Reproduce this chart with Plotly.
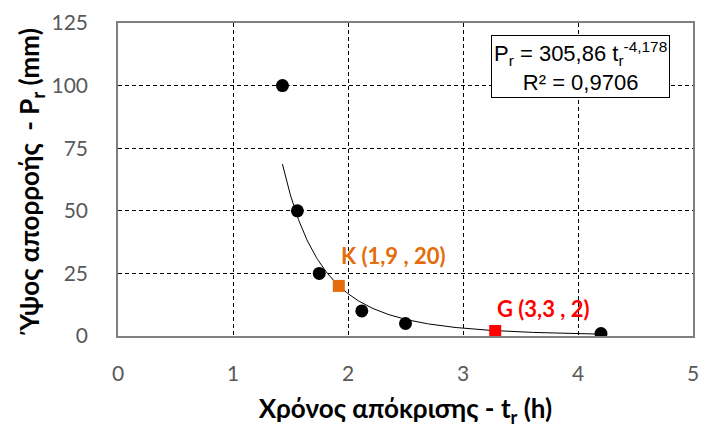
import numpy as np
import plotly.graph_objects as go

# Observed data
t_obs = [1.43, 1.56, 1.75, 2.12, 2.50, 4.20]
p_obs = [100, 50, 25, 10, 5, 1]

# Special points
k_point = (1.92, 20)
g_point = (3.28, 2)
k_label = "K (1,9 , 20)"
g_label = "G (3,3 , 2)"

# Power trendline parameters (from the chart's equation)
fit_a = 305.86
fit_b = -4.178
r2_text = "0,9706"

x_ticks = [0, 1, 2, 3, 4, 5]
y_ticks = [0, 25, 50, 75, 100, 125]

t_fit = np.linspace(min(t_obs), max(t_obs), 300)
p_fit = fit_a * t_fit ** fit_b

fig = go.Figure()
fig.add_trace(go.Scatter(x=t_fit, y=p_fit, mode="lines",
                         line=dict(color="black", width=1), hoverinfo="skip",
                         showlegend=False))
fig.add_trace(go.Scatter(x=t_obs, y=p_obs, mode="markers",
                         marker=dict(color="black", size=13), showlegend=False))
fig.add_trace(go.Scatter(x=[k_point[0]], y=[k_point[1]], mode="markers",
                         marker=dict(color="#E46C0A", size=12, symbol="square"),
                         showlegend=False))
fig.add_trace(go.Scatter(x=[g_point[0]], y=[g_point[1]], mode="markers",
                         marker=dict(color="#FF0000", size=12, symbol="square"),
                         showlegend=False))

tick_font = dict(family="Lato", size=21, color="#595959")
axis_common = dict(showline=True, linecolor="#808080", linewidth=1.5, mirror=True,
                   showgrid=True, gridcolor="black", gridwidth=1, griddash="4px,3px",
                   zeroline=False, ticks="", tickfont=tick_font)
title_font = dict(family="Lato", size=26, color="black", weight="bold")

fig.update_xaxes(range=[0, 5], tickvals=x_ticks, ticktext=[str(v) for v in x_ticks],
                 ticklabelstandoff=18,
                 title=dict(text="Χρόνος απόκρισης - t<sub>r</sub> (h)",
                            font=title_font, standoff=16),
                 **axis_common)
fig.update_yaxes(range=[0, 125], tickvals=y_ticks, ticktext=[str(v) for v in y_ticks],
                 ticklabelstandoff=24,
                 title=dict(text="Ύψος απορροής  - P<sub>r</sub> (mm)",
                            font=title_font, standoff=4),
                 **axis_common)

fig.add_annotation(x=k_point[0], y=k_point[1], text=f"<b>{k_label}</b>", showarrow=False,
                   xanchor="left", yanchor="middle", xshift=0, yshift=30,
                   font=dict(family="Lato", size=22, color="#E46C0A"))
fig.add_annotation(x=g_point[0], y=g_point[1], text=f"<b>{g_label}</b>", showarrow=False,
                   xanchor="left", yanchor="middle", xshift=0, yshift=22,
                   font=dict(family="Lato", size=22, color="#FF0000"))

eq = (f"P<sub>r</sub> = {str(fit_a).replace('.', ',')} t<sub>r</sub>"
      f"<sup>{str(fit_b).replace('.', ',')}</sup><br>R² = {r2_text}")
fig.add_annotation(xref="paper", yref="paper", x=0.804, y=0.862, xanchor="center",
                   yanchor="middle", text=eq, showarrow=False, align="center",
                   bordercolor="black", borderwidth=1, borderpad=2, bgcolor="white",
                   font=dict(family="Liberation Sans", size=22, color="black"))

fig.update_layout(width=708, height=429, margin=dict(l=118, r=9, t=15, b=93),
                  plot_bgcolor="white", paper_bgcolor="white")

fig.write_html("out.html")
